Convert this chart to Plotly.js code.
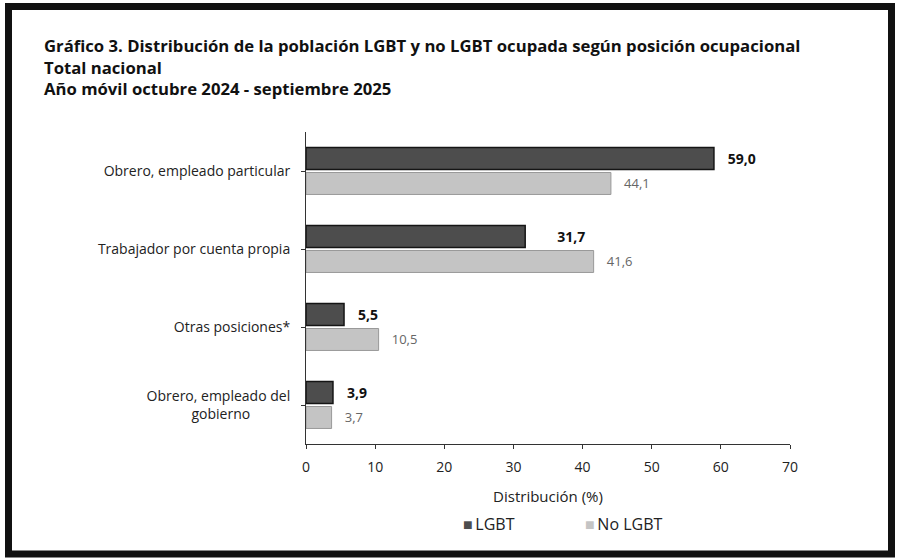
<!DOCTYPE html>
<html>
<head>
<meta charset="utf-8">
<script src="https://cdn.plot.ly/plotly-3.0.1.min.js"></script>
<style>
  html, body { margin: 0; padding: 0; background: #ffffff; }
  #chart { width: 901px; height: 558px; }
</style>
</head>
<body>
<div id="chart"></div>
<script>
// ---- data ----
const categories = [
  "Obrero, empleado particular",
  "Trabajador por cuenta propia",
  "Otras posiciones*",
  "Obrero, empleado del<br>gobierno\u00A0\u00A0\u00A0\u00A0\u00A0\u00A0\u00A0\u00A0\u00A0\u00A0\u00A0"
];
const lgbt = [59.0, 31.7, 5.5, 3.9];
const noLgbt = [44.1, 41.6, 10.5, 3.7];
const seriesNames = ["LGBT", "No LGBT"];
const xTicks = [0, 10, 20, 30, 40, 50, 60, 70];
const colors = ["#4d4d4d", "#c4c4c4"];

const nb = (n) => "\u00A0".repeat(n);
const lgbtTpl = lgbt.map((v, i) => nb(i === 1 ? 8 : 3) + "%{x:.1f}");
const noTpl = noLgbt.map(() => nb(3) + "%{x:.1f}");

const W = 901, H = 558;
const M = { l: 306, r: 111, t: 132, b: 114 };
const pw = W - M.l - M.r, ph = H - M.t - M.b;
const px = (p) => (p - M.l) / pw;
const py = (p) => (H - M.b - p) / ph;

const traces = [
  {
    type: "bar", orientation: "h", name: seriesNames[0],
    y: categories, x: lgbt,
    marker: { color: colors[0], line: { color: "#151515", width: 1.5 } },
    texttemplate: lgbtTpl, textposition: "outside", cliponaxis: false,
    textfont: { family: "Open Sans, sans-serif", size: 14, color: "#111111", weight: "bold" },
    hoverinfo: "x+name", showlegend: false
  },
  {
    type: "bar", orientation: "h", name: seriesNames[1],
    y: categories, x: noLgbt,
    marker: { color: colors[1], line: { color: "#999999", width: 1 } },
    texttemplate: noTpl, textposition: "outside", cliponaxis: false,
    textfont: { family: "Open Sans, sans-serif", size: 13, color: "#666666" },
    hoverinfo: "x+name", showlegend: false
  }
];

const legendItems = seriesNames.map((name, i) => ({
  xref: "paper", yref: "paper",
  x: px(i === 0 ? 461 : 583), y: py(524), xanchor: "left", yanchor: "middle",
  text: '<span style="color:' + colors[i] + '">\u25A0</span>\u2009' + name,
  showarrow: false,
  font: { family: "Open Sans, sans-serif", size: 16, color: "#222222" }
}));

const layout = {
  width: W, height: H,
  margin: M,
  paper_bgcolor: "#ffffff", plot_bgcolor: "#ffffff",
  separators: ",.",
  barmode: "group", bargap: 0.36, bargroupgap: 0.12,
  font: { family: "Open Sans, sans-serif", color: "#222222" },
  title: {
    text: "Gráfico 3. Distribución de la población LGBT y no LGBT ocupada según posición ocupacional<br>Total nacional<br>Año móvil octubre 2024 - septiembre 2025",
    font: { family: "Open Sans, sans-serif", size: 16.7, color: "#111111", weight: "bold" },
    x: 44 / W, xanchor: "left", xref: "container",
    y: 1 - 52 / H, yanchor: "top", yref: "container"
  },
  xaxis: {
    range: [0, 70], tickvals: xTicks, ticktext: xTicks.map(String),
    showgrid: false, zeroline: false,
    showline: true, linecolor: "#333333", linewidth: 1,
    ticks: "outside", ticklen: 4, tickcolor: "#333333",
    tickfont: { size: 14, color: "#222222" },
    ticklabelstandoff: 6,
    title: { text: "Distribución (%)", font: { size: 15, color: "#222222" }, standoff: 16 }
  },
  yaxis: {
    type: "category", autorange: "reversed",
    showgrid: false, zeroline: false,
    showline: true, linecolor: "#333333", linewidth: 1,
    ticks: "outside", ticklen: 4, tickcolor: "#333333",
    tickfont: { size: 14, color: "#222222" },
    ticklabelstandoff: 8
  },
  annotations: legendItems,
  shapes: [
    {
      type: "rect", xref: "paper", yref: "paper",
      x0: px(8.5), x1: px(891.5), y0: py(554), y1: py(6.5),
      line: { color: "#111111", width: 7 }, fillcolor: "rgba(0,0,0,0)", layer: "above"
    }
  ],
  showlegend: false
};

Plotly.newPlot("chart", traces, layout, { displayModeBar: false, staticPlot: true });
</script>
</body>
</html>
